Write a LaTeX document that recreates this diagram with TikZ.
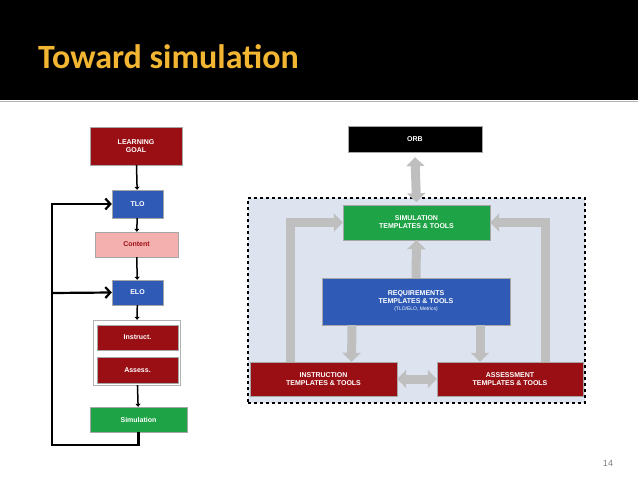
\documentclass[tikz,border=0pt]{standalone}
\usepackage{fontspec}
\setmainfont{Liberation Sans}
\newfontfamily\titlefont{Carlito}
\usetikzlibrary{arrows.meta}
\definecolor{darkred}{HTML}{9A0F14}
\definecolor{tloblue}{HTML}{2F5BB7}
\definecolor{simgreen}{HTML}{1FA347}
\definecolor{pinkish}{HTML}{F4AFAF}
\definecolor{paleblue}{HTML}{DDE4F0}
\definecolor{titlegold}{HTML}{F2B632}
\tikzset{
  box/.style={draw=gray!70, text=white, font=\bfseries\scriptsize, align=center, inner sep=1pt},
  fat/.style={line width=9pt, draw=gray!50, -{Triangle[width=18pt,length=9pt]}},
  fatboth/.style={line width=9pt, draw=gray!50, {Triangle[width=18pt,length=9pt]}-{Triangle[width=18pt,length=9pt]}},
  loop/.style={line width=2.2pt, -{Straight Barb[length=5pt,width=11pt]}},
  link/.style={line width=1.5pt, -{Triangle[length=3pt,width=5pt]}}
}
\begin{document}
\begin{tikzpicture}[x=1pt,y=-1pt]
  \useasboundingbox (0,0) rectangle (638,479);
  \fill[white] (0,0) rectangle (638,479);
  \fill[black] (0,0) rectangle (638,100);
  \draw[gray!60] (0,101) -- (638,101);
  \node[anchor=base west, text=titlegold, font=\titlefont\bfseries\fontsize{34}{40}\selectfont, inner sep=0] (title) at (38,68) {Toward simulation};
  \node[text=gray, font=\small] (page) at (608,463) {14};
  % left flow
  \node[box, fill=darkred, minimum width=92, minimum height=38] (goal) at (136,146) {LEARNING\\GOAL};
  \node[box, fill=tloblue, minimum width=51, minimum height=28] (tlo) at (137.5,204) {TLO};
  \node[box, fill=pinkish, text=darkred, minimum width=83, minimum height=25] (content) at (136.5,244.5) {Content};
  \node[box, fill=tloblue, minimum width=51, minimum height=25] (elo) at (137.5,292.5) {ELO};
  \node[draw=gray!60, minimum width=87, minimum height=65] (group) at (136.5,352.5) {};
  \node[box, fill=darkred, minimum width=81, minimum height=25] (instr) at (137.5,337.5) {Instruct.};
  \node[box, fill=darkred, minimum width=81, minimum height=26] (assess) at (137.5,370) {Assess.};
  \node[box, fill=simgreen, minimum width=97, minimum height=25] (sim) at (138.5,419.5) {Simulation};
  \draw[link] (goal) -- (tlo);
  \draw[link] (tlo) -- (content);
  \draw[link] (content) -- (elo);
  \draw[link] (elo) -- (group);
  \draw[link] (group) -- (sim);
  \coordinate (corner) at (52,445);
  \draw[loop] (sim.south) |- (corner) |- (tlo.west);
  \draw[loop] (52,293) -- (elo.west);
  % right diagram
  \node[box, fill=black, minimum width=134, minimum height=26] (orb) at (415,139) {ORB};
  \node[draw, dashed, line width=1.5pt, fill=paleblue, minimum width=337, minimum height=205] (frame) at (416.5,300.5) {};
  \node[box, fill=simgreen, minimum width=147, minimum height=35] (simtt) at (416.5,222.5) {SIMULATION\\TEMPLATES \& TOOLS};
  \node[box, fill=tloblue, minimum width=188, minimum height=47] (req) at (416,301.5) {REQUIREMENTS\\TEMPLATES \& TOOLS\\[-1pt]{\mdseries\tiny (TLO/ELO, Metrics)}};
  \node[box, fill=darkred, minimum width=147, minimum height=34] (instt) at (323.5,379) {INSTRUCTION\\TEMPLATES \& TOOLS};
  \node[box, fill=darkred, minimum width=146, minimum height=34] (asstt) at (510,379) {ASSESSMENT\\TEMPLATES \& TOOLS};
  \draw[fatboth] (orb.south) ++(0,5) -- ([yshift=-5]frame.north);
  \draw[fat] (req.north) -- (simtt.south);
  \draw[fat] ([xshift=-64]req.south) -- ([xshift=28]instt.north);
  \draw[fat] ([xshift=64]req.south) -- ([xshift=-30]asstt.north);
  \draw[fatboth] (instt.east) -- (asstt.east -| asstt.west);
  \draw[fat] ([xshift=-33]instt.north) |- (simtt.west);
  \draw[fat] ([xshift=35]asstt.north) |- (simtt.east);
\end{tikzpicture}
\end{document}
